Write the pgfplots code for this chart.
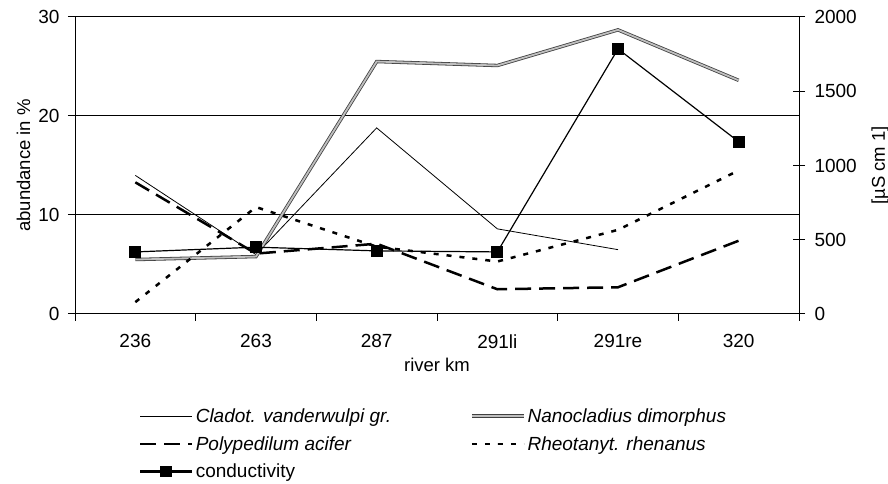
\documentclass[border=0pt]{standalone}
\usepackage{pgfplots}
\pgfplotsset{compat=1.18}
\usepackage{fontspec}
\setmainfont{Liberation Sans}
\begin{document}
\begin{tikzpicture}
\useasboundingbox (0,0) rectangle (888pt,484pt);
\pgfplotsset{
  myaxis/.style={
    at={(75pt,170pt)}, anchor=south west,
    width=724pt, height=297pt, scale only axis,
    xmin=-0.5, xmax=5.5,
    /pgf/number format/assume math mode=true,
    /pgf/number format/set thousands separator={},
    tick label style={font=\fontsize{19}{21}\selectfont},
    label style={font=\fontsize{18.5}{21}\selectfont},
    axis line style={-, line width=1pt},
    tick style={black, line width=1pt},
  },
  legend image code/.code={\draw[mark repeat=2,mark phase=2,#1] plot coordinates {(0pt,0pt)(26pt,0pt)(52pt,0pt)};},
}
\begin{axis}[myaxis,
  ymin=0, ymax=30,
  axis x line*=bottom, axis y line*=left,
  xtick={0,...,5}, xticklabels={236,263,287,291li,291re,320},
  major x tick style={draw=none},
  minor xtick={-0.5,0.5,1.5,2.5,3.5,4.5,5.5},
  minor tick length=7pt, major tick length=7pt,
  tick align=outside,
  xticklabel style={yshift=-10pt},
  yticklabel style={xshift=-5pt},
  ytick={0,10,20,30},
  ymajorgrids, grid style={black, line width=1pt},
  xlabel={river km},
  xlabel style={at={(axis description cs:0.5,-0.172)}, anchor=center},
  ylabel={abundance in \%},
  ylabel style={at={(axis description cs:-0.071,0.5)}, anchor=center},
  legend columns=2,
  legend style={at={(axis description cs:0.083,-0.304)}, anchor=north west, draw=none,
    font=\itshape\fontsize{19}{21}\selectfont, cells={anchor=west},
    /tikz/column 2/.style={column sep=77pt}, row sep=8.5pt},
]
\addplot[black, line width=0.8pt] coordinates {(0,14.0) (1,6.0) (2,18.8) (3,8.6) (4,6.5)};
\addlegendentry{Cladot. vanderwulpi gr.}
\addplot[black!75, line width=0.8pt, double=black!25, double distance=1.8pt] coordinates {(0,5.5) (1,5.8) (2,25.5) (3,25.1) (4,28.7) (5,23.6)};
\addlegendentry{Nanocladius dimorphus}
\addplot[black, line width=2.5pt, dash pattern=on 16pt off 8pt] coordinates {(0,13.3) (1,6.1) (2,7.1) (3,2.5) (4,2.7) (5,7.4)};
\addlegendentry{Polypedilum acifer}
\addplot[black, line width=2.5pt, dash pattern=on 5pt off 8pt] coordinates {(0,1.2) (1,10.8) (2,6.8) (3,5.3) (4,8.5) (5,14.5)};
\addlegendentry{Rheotanyt. rhenanus}
\addlegendimage{black, line width=3.5pt, mark=square*, mark size=4pt}
\addlegendentry{\upshape conductivity}
\end{axis}
\begin{axis}[myaxis,
  ymin=0, ymax=2000,
  axis x line=none, axis y line*=right,
  ytick={0,500,1000,1500,2000},
  tick align=center, major tick length=12pt,
  yticklabel style={xshift=6pt},
  ylabel={[µS cm 1]},
  ylabel style={at={(axis description cs:1.112,0.5)}, anchor=center},
]
\addplot[black, line width=1.2pt, mark=square*, mark size=5.5pt] coordinates {(0,418) (1,450) (2,425) (3,418) (4,1785) (5,1160)};
\end{axis}
\end{tikzpicture}
\end{document}
